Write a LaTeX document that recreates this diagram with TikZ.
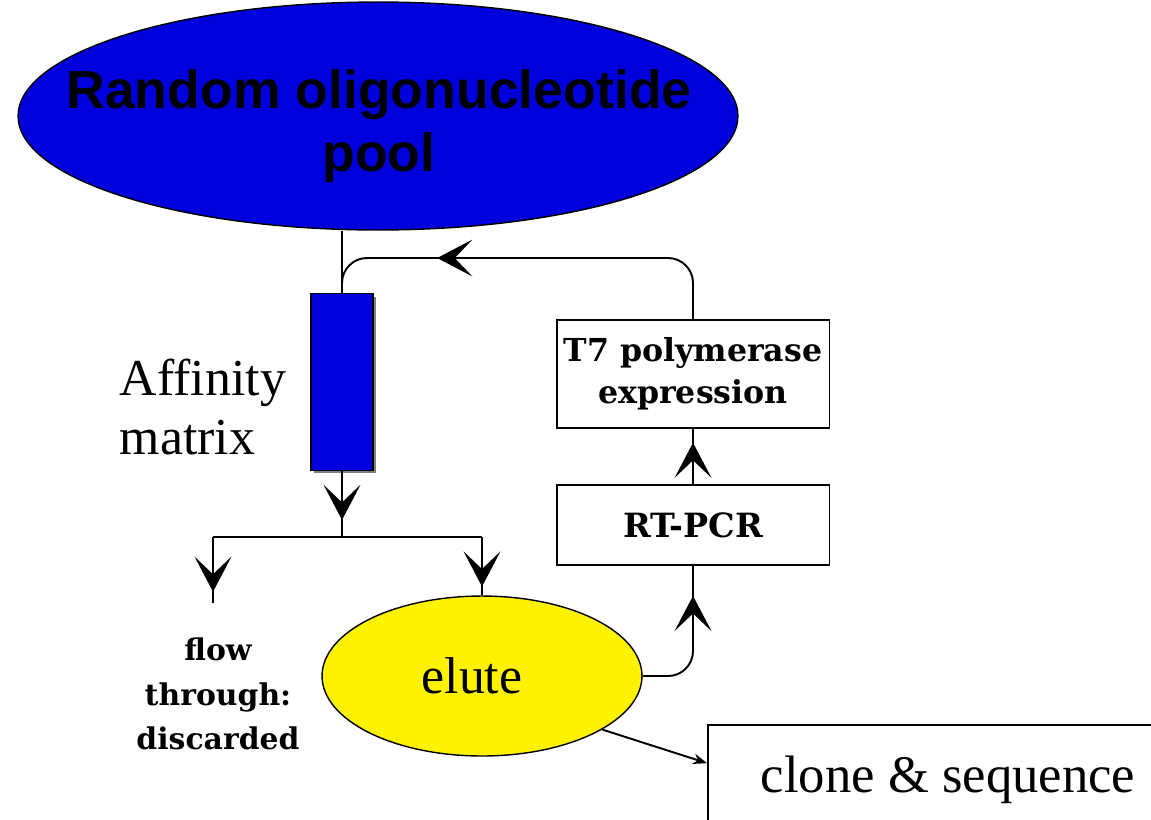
\documentclass[tikz,border=0pt]{standalone}
\usepackage{fontspec}
\setmainfont{Liberation Serif}
\newfontfamily\poolfont{Liberation Sans}
\newfontfamily\boxfont{DejaVu Serif}
\usetikzlibrary{positioning,shapes.geometric,arrows.meta,decorations.markings,shadows}
\definecolor{poolblue}{RGB}{0,0,221}
\tikzset{
  barb/.tip={Stealth[length=20pt,width=21pt,inset=10pt]},
  midarrow/.style={postaction={decorate},decoration={markings,mark=at position #1 with {\arrow{barb}}}},
  stepbox/.style={draw,line width=1.1pt,minimum width=5.46cm,inner sep=0pt,align=center}
}
\begin{document}
\begin{tikzpicture}[x=0.02cm,y=-0.02cm,line width=1.1pt]
\useasboundingbox[fill=white] (0,0) rectangle (1151,819);
% pool and column
\node[ellipse,draw,line width=0.8pt,fill=poolblue,minimum width=14.4cm,minimum height=4.56cm,inner sep=0pt] (pool) at (378,116) {};
\node[align=center,inner sep=0pt,font=\poolfont\bfseries\fontsize{30.5}{35.7}\selectfont] (pooltext) at (379,126) {Random oligonucleotide\\pool};
\node[draw,fill=poolblue,minimum width=1.24cm,minimum height=3.54cm,inner sep=0pt,drop shadow={shadow xshift=0.06cm,shadow yshift=-0.06cm,fill=gray,opacity=1}] (column) at (342,382) {};
\node[align=left,inner sep=0pt,font=\fontsize{29.5}{34}\selectfont] (affinity) at (203,407) {Affinity\\matrix};
% outcomes
\node[ellipse,draw,line width=0.8pt,fill=yellow,minimum width=6.4cm,minimum height=3.2cm,inner sep=0pt] (elute) at (482,676) {};
\node[inner sep=0pt,font=\fontsize{29.5}{34}\selectfont] (elutetext) at (472,676) {elute};
\node[align=center,inner sep=0pt,font=\boxfont\bfseries\fontsize{17}{25.5}\selectfont] (discard) at (218,694) {flow\\through:\\discarded};
% amplification steps
\node[stepbox,minimum height=1.6cm,font=\boxfont\bfseries\fontsize{19}{24}\selectfont] (rtpcr) at (693,525) {RT-PCR};
\node[stepbox,minimum height=2.16cm,font=\boxfont\bfseries\fontsize{18}{24}\selectfont] (t7) at (693,374) {T7 polymerase\\expression};
\node[draw,line width=1.1pt,minimum width=9.6cm,minimum height=2.2cm,font=\fontsize{30}{36}\selectfont] (clone) at (948,780) {clone \& sequence};
% connectors
\coordinate (split) at (342,537);
\coordinate (lbranch) at (213,537);
\coordinate (rbranch) at (482,537);
\coordinate (flowend) at (213,603);
\coordinate (loopjoin) at (342,258);
\draw (pool.south -| column.north) -- (column.north);
\draw[midarrow=0.74] (column.south) -- (split);
\draw (lbranch) -- (rbranch);
\draw[midarrow=0.83] (lbranch) -- (flowend);
\draw[midarrow=0.85] (rbranch) -- (elute.north);
\draw[midarrow=0.8,rounded corners=0.5cm] (elute.east) -| (rtpcr.south);
\draw[midarrow=0.75] (rtpcr.north) -- (t7.south);
\draw[midarrow=0.72,rounded corners=0.5cm] (t7.north) |- (loopjoin) -- (column.north);
\draw[-{Stealth[length=8pt,width=6pt]}] (elute.-24) -- (clone.176);
\end{tikzpicture}
\end{document}
